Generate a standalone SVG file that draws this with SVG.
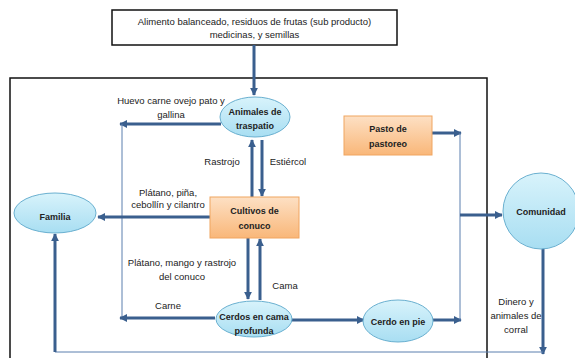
<svg xmlns="http://www.w3.org/2000/svg" width="575" height="358" viewBox="0 0 575 358">
<defs>
<linearGradient id="gb" x1="0" y1="0" x2="0" y2="1"><stop offset="0" stop-color="#d8f3fb"/><stop offset="1" stop-color="#a8def2"/></linearGradient>
<linearGradient id="go" x1="0" y1="0" x2="0" y2="1"><stop offset="0" stop-color="#fde0c4"/><stop offset="1" stop-color="#f9b779"/></linearGradient>
<marker id="a" viewBox="0 0 10 10" refX="9" refY="5" markerWidth="2.6" markerHeight="2.6" orient="auto"><path d="M0,0 L10,5 L0,10 z" fill="#3a5f8e"/></marker>
</defs>
<style>
.t{font-family:"Liberation Sans",Arial,sans-serif;font-size:9.5px;fill:#222;text-anchor:middle}
.b{font-family:"Liberation Sans",Arial,sans-serif;font-size:9px;font-weight:bold;fill:#222;text-anchor:middle}
.el{fill:url(#gb);stroke:#6ab0d0;stroke-width:1}
.rc{fill:url(#go);stroke:#f0a560;stroke-width:1}
.k{stroke:#3a5f8e;stroke-width:3;fill:none}
.n{stroke:#5b7fae;stroke-width:1;fill:none}
</style>
<rect width="575" height="358" fill="#fff"/>
<rect x="10" y="78" width="477" height="290" fill="none" stroke="#111" stroke-width="1.5"/>
<g id="top"><rect x="112" y="10" width="285" height="35" fill="#fff" stroke="#111" stroke-width="1.5"/>
<text class="t" x="254.5" y="25">Alimento balanceado, residuos de frutas (sub producto)</text>
<text class="t" x="254.5" y="38">medicinas, y semillas</text></g>
<g id="connectors">
<path class="k" d="M254,45 V95" marker-end="url(#a)"/>
<path class="k" d="M221,124 H120" marker-end="url(#a)"/>
<path class="n" d="M122,124 V318"/>
<path class="k" d="M252,197 V140" marker-end="url(#a)"/>
<path class="k" d="M262,140 V196" marker-end="url(#a)"/>
<path class="k" d="M210,217 H98" marker-end="url(#a)"/>
<path class="k" d="M248,238 V299" marker-end="url(#a)"/>
<path class="k" d="M260,300 V239" marker-end="url(#a)"/>
<path class="k" d="M215,318 H120" marker-end="url(#a)"/>
<path class="k" d="M291,320 H364" marker-end="url(#a)"/>
<path class="k" d="M433,320 H461" marker-end="url(#a)"/>
<path class="k" d="M432,133 H461" marker-end="url(#a)"/>
<path class="n" d="M460,133 V320"/>
<path class="k" d="M460,215 H502" marker-end="url(#a)"/>
<path class="k" d="M543,248 V354" marker-end="url(#a)"/>
<path class="n" d="M543,352 H55"/>
<path class="k" d="M55,352 V234" marker-end="url(#a)"/>
</g>
<g id="animales"><ellipse class="el" cx="255" cy="117" rx="35" ry="20"/>
<text class="b" x="255" y="115">Animales de</text><text class="b" x="255" y="129">traspatio</text></g>
<g id="cultivos"><rect class="rc" x="210" y="197" width="89" height="41"/>
<text class="b" x="254.5" y="214">Cultivos de</text><text class="b" x="254.5" y="229">conuco</text></g>
<g id="cerdos"><ellipse class="el" cx="254" cy="319" rx="38" ry="18"/>
<text class="b" x="254" y="320">Cerdos en cama</text><text class="b" x="254" y="334">profunda</text></g>
<g id="cerdopie"><ellipse class="el" cx="398" cy="321" rx="35" ry="21"/>
<text class="b" x="398" y="325">Cerdo en pie</text></g>
<g id="pasto"><rect class="rc" x="344" y="116" width="88" height="39"/>
<text class="b" x="388" y="132">Pasto de</text><text class="b" x="388" y="147">pastoreo</text></g>
<g id="familia"><ellipse class="el" cx="55" cy="213" rx="41" ry="20"/>
<text class="b" x="55" y="220">Familia</text></g>
<g id="comunidad"><circle class="el" cx="541" cy="211" r="38"/>
<text class="b" x="541" y="215">Comunidad</text></g>
<g id="labels">
<text class="t" x="171" y="104">Huevo carne ovejo pato y</text>
<text class="t" x="171" y="118">gallina</text>
<text class="t" x="222" y="165">Rastrojo</text>
<text class="t" x="288" y="165">Estiércol</text>
<text class="t" x="168" y="196">Plátano, piña,</text>
<text class="t" x="168" y="208">cebollín y cilantro</text>
<text class="t" x="182" y="266">Plátano, mango y rastrojo</text>
<text class="t" x="182" y="280">del conuco</text>
<text class="t" x="285" y="289">Cama</text>
<text class="t" x="168" y="309">Carne</text>
<text class="t" x="516" y="305">Dinero y</text>
<text class="t" x="516" y="319">animales de</text>
<text class="t" x="516" y="333">corral</text>
</g>
</svg>
